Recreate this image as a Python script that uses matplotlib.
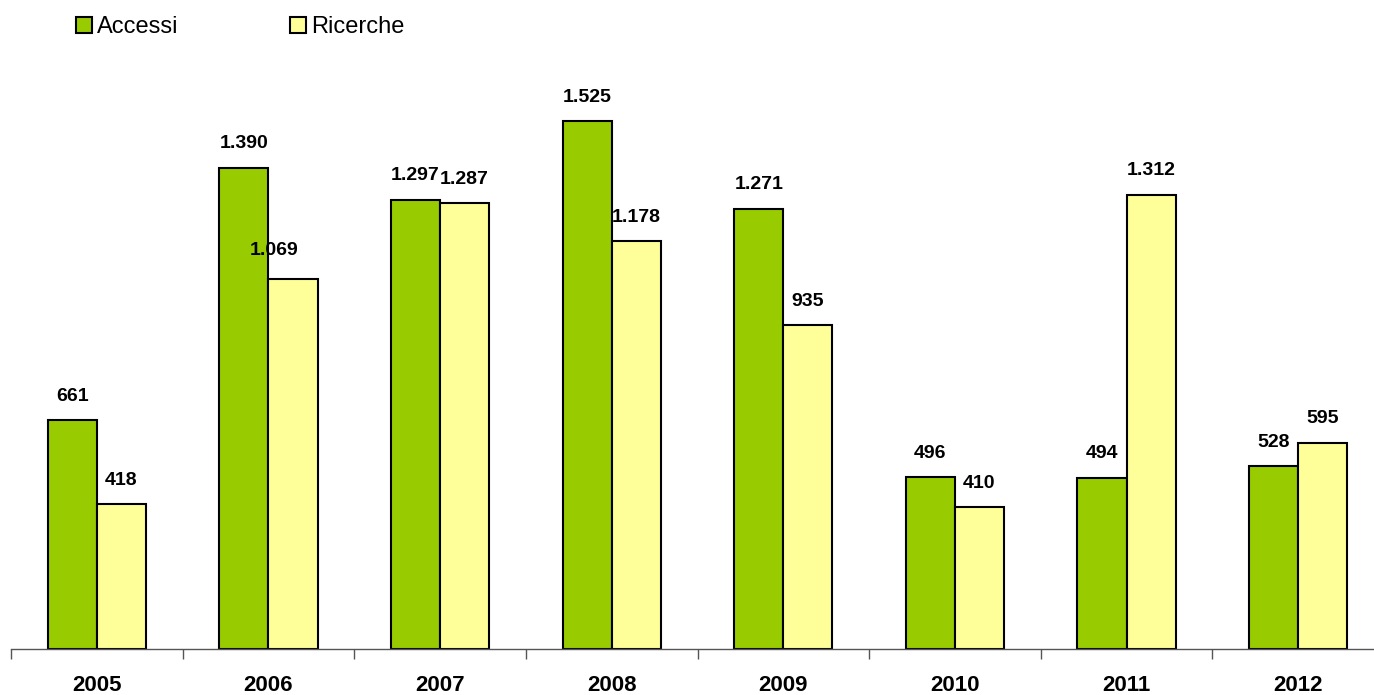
import matplotlib
matplotlib.use("Agg")
import matplotlib.pyplot as plt
import numpy as np

years = ["2005", "2006", "2007", "2008", "2009", "2010", "2011", "2012"]
accessi = [661, 1390, 1297, 1525, 1271, 496, 494, 528]
ricerche = [418, 1069, 1287, 1178, 935, 410, 1312, 595]
accessi_labels = ["661", "1.390", "1.297", "1.525", "1.271", "496", "494", "528"]
ricerche_labels = ["418", "1.069", "1.287", "1.178", "935", "410", "1.312", "595"]

plt.rcParams['font.family'] = ['Liberation Sans', 'DejaVu Sans']

W, H = 1374, 695
fig = plt.figure(figsize=(W / 100, H / 100), dpi=100)
x0, x1 = 11, 1384
ybase = 649
ymax = 1700
ppu = 528 / 1525
ax = fig.add_axes([x0 / W, (H - ybase) / H, (x1 - x0) / W, ymax * ppu / H])

x = np.arange(len(years))
bw = 0.286
green = "#99CC00"
yellow = "#FFFF99"
b1 = ax.bar(x - bw / 2, accessi, bw, color=green, edgecolor="black", linewidth=1.5, label="Accessi")
b2 = ax.bar(x + bw / 2, ricerche, bw, color=yellow, edgecolor="black", linewidth=1.5, label="Ricerche")

for xi, v, lab in zip(x, accessi, accessi_labels):
    ax.annotate(lab, (xi - bw / 2, v), xytext=(0, 24), textcoords="offset pixels",
                ha="center", va="center", fontsize=14, fontweight="bold")
for i, (xi, v, lab) in enumerate(zip(x, ricerche, ricerche_labels)):
    off = (-19, 28) if i == 1 else (0, 24)  # label placement nudge as in the original
    ax.annotate(lab, (xi + bw / 2, v), xytext=off, textcoords="offset pixels",
                ha="center", va="center", fontsize=14, fontweight="bold", zorder=5)

ax.set_xlim(-0.5, len(years) - 0.5)
ax.set_ylim(0, ymax)
for s in ["left", "right", "top"]:
    ax.spines[s].set_visible(False)
ax.spines["bottom"].set_color("#555555")
ax.spines["bottom"].set_linewidth(1.0)
ax.set_yticks([])
ax.set_xticks(np.arange(len(years) + 1) - 0.5)
ax.set_xticklabels([])
ax.tick_params(axis="x", which="major", length=7, color="#555555", width=1.0)
ax.set_xticks(x, minor=True)
ax.set_xticklabels(years, minor=True, fontsize=16, fontweight="bold")
ax.tick_params(axis="x", which="minor", length=0, pad=18.5)

fig.legend(handles=[b1, b2], labels=["Accessi", "Ricerche"], loc="center left",
           bbox_to_anchor=(76 / W, 1 - 27 / H), ncol=2, frameon=False,
           fontsize=17, handlelength=0.68, handleheight=0.68, handletextpad=0.22,
           columnspacing=4.7, borderaxespad=0, borderpad=0)

fig.savefig("out.png", dpi=100)
